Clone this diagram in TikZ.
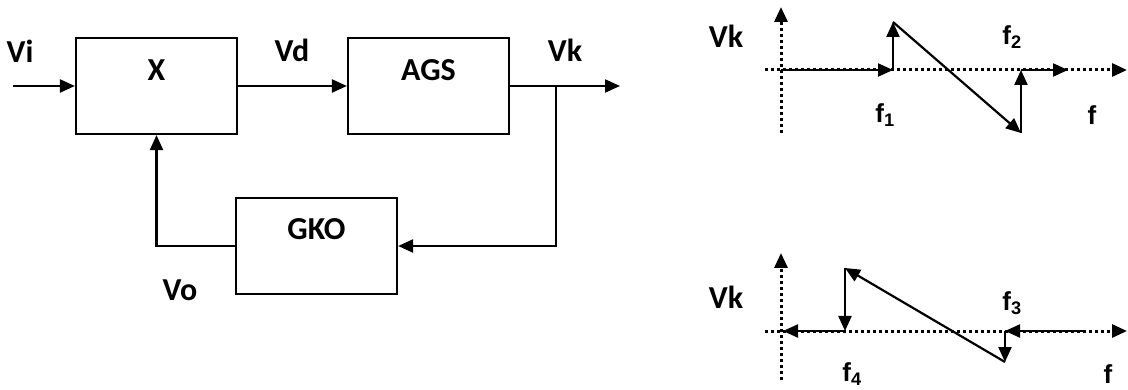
\documentclass[tikz,border=0pt]{standalone}
\usepackage{fontspec}
\setmainfont{Carlito}
\newfontfamily\arialfont{Liberation Sans}
\usetikzlibrary{arrows.meta,positioning}

\begin{document}
\begin{tikzpicture}[
    x=1pt, y=-1pt,
    block/.style={rectangle, draw, line width=2.2pt, minimum width=161pt, minimum height=96pt, inner sep=0pt},
    lbl/.style={font=\fontsize{32}{36}\selectfont\bfseries, inner sep=0pt},
    flbl/.style={font=\arialfont\fontsize{26}{30}\selectfont\bfseries, inner sep=0pt},
    arrow/.style={-{Triangle[length=15pt,width=13pt]}, line width=2.2pt},
    axis/.style={line width=3pt, dash pattern=on 3pt off 3pt}
]
    \useasboundingbox (0,0) rectangle (1128,390);

    % Blocks
    \node[block] (mix) at (156.5,86) {};
    \node[block] (ags) at (428.5,86) {};
    \node[block] (gko) at (316.5,246) {};
    \node[lbl] (mixtxt) at (156.5,70) {X};
    \node[lbl] (agstxt) at (428.5,70) {AGS};
    \node[lbl] (gkotxt) at (316.5,229) {GKO};

    % Signal names
    \node[lbl] (vi) at (20,51) {Vi};
    \node[lbl] (vd) at (292,50) {Vd};
    \node[lbl] (vk) at (565,50) {Vk};
    \node[lbl] (vo) at (180,290) {Vo};

    % Arrows of the loop
    \coordinate (in) at (13,86);
    \coordinate (out) at (620,86);
    \coordinate (split) at (556,86);
    \draw[arrow] (in) -- (mix.west);
    \draw[arrow] (mix.east) -- (ags.west);
    \draw[arrow] (ags.east) -- (out);
    \draw[arrow] (split) |- (gko.east);
    \draw[arrow] (gko.west) -| (mix.south);

    % Upper graph: axes
    \coordinate (o1) at (781,70);
    \draw[axis, -{Triangle[length=15pt,width=13pt]}] (781,133) -- (781,7);
    \draw[axis, -{Triangle[length=15pt,width=13pt]}] (765,70) -- (1127,70);
    % Upper graph: sweep
    \coordinate (a1) at (893,70);
    \coordinate (a2) at (893,22);
    \coordinate (a3) at (1021,133);
    \coordinate (a4) at (1021,70);
    \coordinate (a5) at (1068,70);
    \draw[arrow] (o1) -- (a1);
    \draw[arrow] (a1) -- (a2);
    \draw[arrow] (a2) -- (a3);
    \draw[arrow] (a3) -- (a4);
    \draw[arrow] (a4) -- (a5);
    \node[lbl] (vkup) at (726,36) {Vk};
    \node[flbl] (fone) at (885,115) {f\textsubscript{1}};
    \node[flbl] (ftwo) at (1012,37) {f\textsubscript{2}};
    \node[flbl] (fup) at (1092,115) {f};

    % Lower graph: axes
    \coordinate (o2) at (783,331);
    \draw[axis, -{Triangle[length=15pt,width=13pt]}] (781,380) -- (781,253);
    \draw[axis, -{Triangle[length=15pt,width=13pt]}] (765,331) -- (1127,331);
    % Lower graph: sweep
    \coordinate (b0) at (1085,331);
    \coordinate (b1) at (1005,331);
    \coordinate (b2) at (1005,362);
    \coordinate (b3) at (845,268);
    \coordinate (b4) at (845,331);
    \draw[arrow] (b0) -- (b1);
    \draw[arrow] (b1) -- (b2);
    \draw[arrow] (b2) -- (b3);
    \draw[arrow] (b3) -- (b4);
    \draw[arrow] (b4) -- (o2);
    \node[lbl] (vkdown) at (726,297) {Vk};
    \node[flbl] (fthree) at (1012,303) {f\textsubscript{3}};
    \node[flbl] (ffour) at (852,374) {f\textsubscript{4}};
    \node[flbl] (fdown) at (1108,374) {f};

\end{tikzpicture}
\end{document}
